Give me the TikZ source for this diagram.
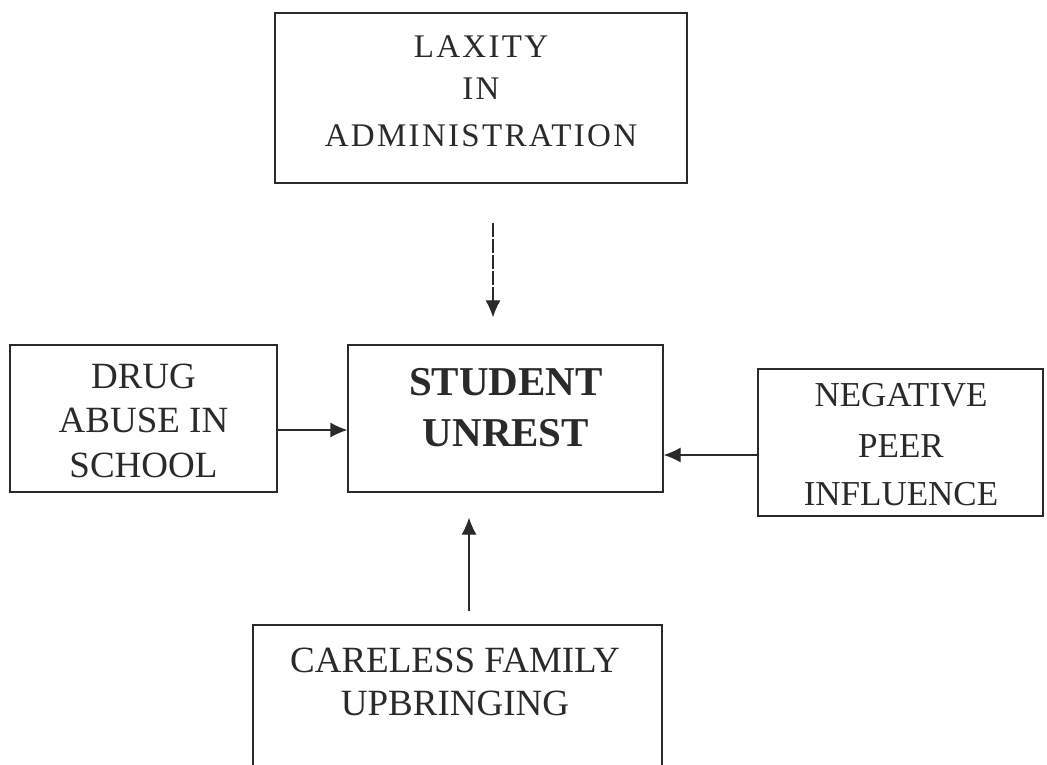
\documentclass[tikz,border=0pt]{standalone}
\usepackage{fontspec}
\setmainfont{Liberation Serif}
\newfontfamily\spacedfont[LetterSpace=7]{Liberation Serif}
\usetikzlibrary{arrows.meta}
\definecolor{ink}{HTML}{2A2A2A}
\begin{document}
\begin{tikzpicture}[x=1pt,y=-1pt,
  box/.style={draw=ink,line width=1.3pt,inner sep=0pt},
  txt/.style={text=ink,anchor=base,inner sep=0pt},
  bigtxt/.style={txt,font=\fontsize{37}{45}\selectfont},
  toptxt/.style={txt,font=\spacedfont\fontsize{33}{45}\selectfont},
  boldtxt/.style={txt,font=\fontsize{41}{51}\selectfont\bfseries},
  arr/.style={draw=ink,line width=1.3pt,-{Latex[length=17pt,width=15pt]}}]
\useasboundingbox[fill=white] (0,0) rectangle (1047,765);
\clip (0,0) rectangle (1047,765);

% boxes
\node[box,minimum width=412pt,minimum height=170pt] (top) at (481,98) {};
\node[box,minimum width=267pt,minimum height=147pt] (left) at (143.5,418.5) {};
\node[box,minimum width=315pt,minimum height=147pt] (cen) at (505.5,418.5) {};
\node[box,minimum width=285pt,minimum height=147pt] (right) at (900.5,442.5) {};
\node[box,minimum width=409pt,minimum height=175pt] (bot) at (457.5,712.5) {};

% texts
\node[toptxt] (t1) at (481,58) {LAXITY};
\node[toptxt] (t2) at (481,100) {IN};
\node[toptxt] (t3) at (481,147) {ADMINISTRATION};

\node[bigtxt] (l1) at (143.5,388) {DRUG};
\node[bigtxt] (l2) at (143.5,432) {ABUSE IN};
\node[bigtxt] (l3) at (143.5,477) {SCHOOL};

\node[boldtxt] (c1) at (506,395) {STUDENT};
\node[boldtxt] (c2) at (506,446) {UNREST};

\node[txt,font=\fontsize{35}{50}\selectfont] (r1) at (901,406) {NEGATIVE};
\node[txt,font=\fontsize{35}{50}\selectfont] (r2) at (901,457) {PEER};
\node[txt,font=\fontsize{35}{50}\selectfont] (r3) at (901,505) {INFLUENCE};

\node[bigtxt] (b1) at (455,672) {CARELESS FAMILY};
\node[bigtxt] (b2) at (455,715) {UPBRINGING};

% connectors
\coordinate (xT) at (493,223);
\coordinate (yL) at (0,430);
\coordinate (yR) at (0,455);
\coordinate (xB) at (469,0);
\draw[arr,line width=1.2pt,dash pattern=on 14pt off 2pt,shorten >=27pt] (xT) -- (xT |- cen.north);
\draw[arr] (left.east |- yL) -- (cen.west |- yL);
\draw[arr] (right.west |- yR) -- (cen.east |- yR);
\draw[arr,shorten <=13pt,shorten >=25pt] (bot.north -| xB) -- (cen.south -| xB);
\end{tikzpicture}
\end{document}
